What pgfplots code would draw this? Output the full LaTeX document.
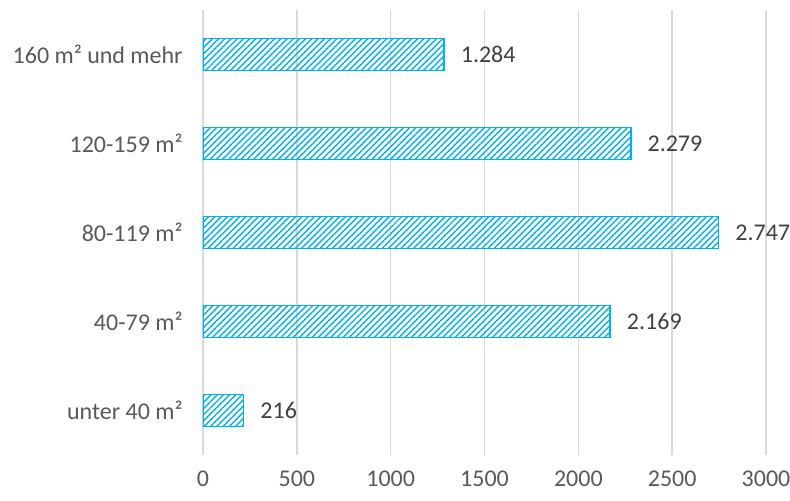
\documentclass[border=0pt]{standalone}
\usepackage{fontspec}
\setmainfont{Carlito}
\usepackage{pgfplots}
\pgfplotsset{compat=1.18}
\usetikzlibrary{patterns.meta}
\definecolor{barblue}{HTML}{00B0F0}
\definecolor{gridgray}{HTML}{D9D9D9}
\definecolor{ticktext}{HTML}{595959}
\definecolor{valtext}{HTML}{404040}
\begin{document}
\fontsize{12}{14}\selectfont
\begin{tikzpicture}
\useasboundingbox (-101.5pt,-22.5pt) rectangle (293.5pt,227.5pt);
\begin{axis}[
  scale only axis,
  width=281.5pt, height=222.5pt,
  xmin=0, xmax=3000, ymin=-0.5, ymax=4.5,
  xbar, bar width=16pt,
  axis line style={draw=none},
  major tick length=0pt,
  xmajorgrids, grid style={gridgray, line width=0.7pt},
  xtick={0,500,1000,1500,2000,2500,3000},
  ytick={0,1,2,3,4},
  yticklabels={unter 40 m²,40-79 m²,80-119 m²,120-159 m²,160 m² und mehr},
  tick label style={text=ticktext, font=\fontsize{12}{14}\selectfont},
  xticklabel style={yshift=-4pt},
  yticklabel style={xshift=-6pt},
  /pgf/number format/assume math mode=true,
  xticklabel={\pgfmathprintnumber[1000 sep={}]{\tick}},
  nodes near coords,
  nodes near coords style={text=valtext, font=\fontsize{12}{14}\selectfont, anchor=west, xshift=4pt,
    /pgf/number format/.cd, 1000 sep={.}, assume math mode=true},
]
\addplot[draw=barblue, line width=0.9pt,
  pattern={Lines[angle=45,distance=2.2pt,line width=0.7pt]}, pattern color=barblue]
  coordinates {(216,0) (2169,1) (2747,2) (2279,3) (1284,4)};
\end{axis}
\end{tikzpicture}
\end{document}
